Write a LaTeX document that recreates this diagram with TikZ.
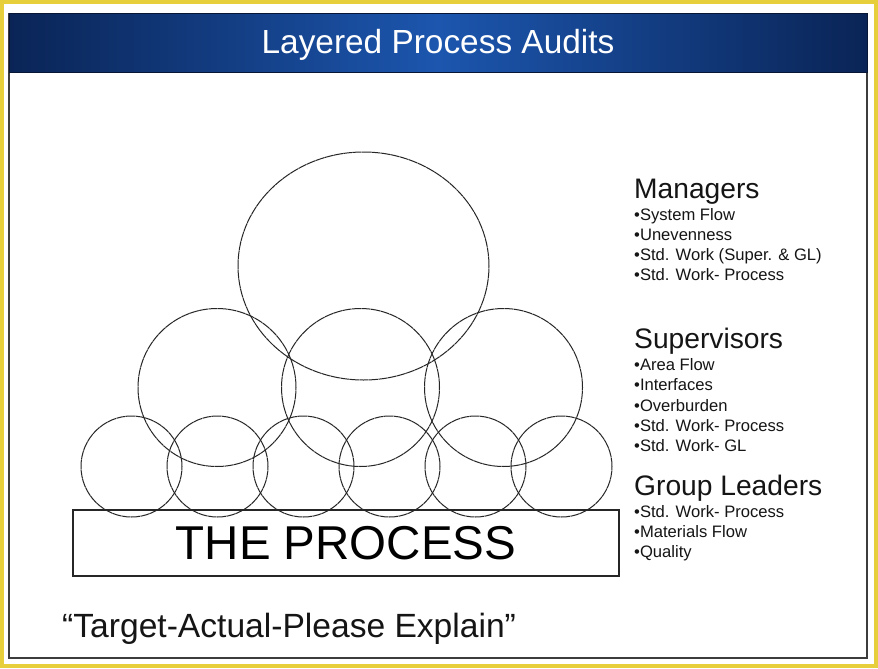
\documentclass[tikz,border=0pt]{standalone}
\usepackage{fontspec}
\setmainfont{Liberation Sans}
\usetikzlibrary{shapes.geometric}
\definecolor{frameyellow}{HTML}{E6CF3A}
\definecolor{navydark}{HTML}{0A2456}
\definecolor{navymid}{HTML}{1C56AE}
\definecolor{inkgray}{HTML}{262626}
\definecolor{textink}{HTML}{151515}
\begin{document}
\begin{tikzpicture}[x=1pt,y=-1pt,
  ring/.style={circle,draw=inkgray,line width=1pt,inner sep=0pt,dash pattern=on 9pt off 0.5pt},
  bigring/.style={ellipse,draw=inkgray,line width=1pt,inner sep=0pt,dash pattern=on 9pt off 0.5pt},
  headtext/.style={anchor=base west,inner sep=0pt,text=textink,font=\fontsize{28.2}{30}\selectfont},
  itemtext/.style={anchor=base west,inner sep=0pt,text=textink,font=\fontsize{16.6}{18}\selectfont}]
\useasboundingbox (0,0) rectangle (878,669);
\fill[white] (0,0) rectangle (878,669);
\draw[frameyellow,line width=4.5pt] (2,2) rectangle (876,666);
\draw[inkgray!90,line width=1.6pt] (9,14) rectangle (867,658);
\shade[left color=navydark,right color=navydark,middle color=navymid] (9,14) rectangle (867,73);
\draw[navydark!60!black,line width=1pt] (9,14) rectangle (867,73);
\node[anchor=base,inner sep=0pt,text=white,font=\fontsize{33.4}{35}\selectfont] (title) at (438,54) {Layered Process Audits};

% circles
\node[bigring,minimum width=251pt,minimum height=228pt] (mgr) at (363.5,266) {};
\node[ring,minimum size=158pt] (sup1) at (217,387.5) {};
\node[ring,minimum size=158pt] (sup2) at (360.5,387.5) {};
\node[ring,minimum size=158pt] (sup3) at (503.5,387.5) {};
\node[ring,minimum size=101pt] (gl1) at (131.5,466.5) {};
\node[ring,minimum size=101pt] (gl2) at (217.5,466.5) {};
\node[ring,minimum size=101pt] (gl3) at (303.5,466.5) {};
\node[ring,minimum size=101pt] (gl4) at (389.5,466.5) {};
\node[ring,minimum size=101pt] (gl5) at (475.5,466.5) {};
\node[ring,minimum size=101pt] (gl6) at (561.5,466.5) {};

% process box
\node[draw=inkgray,line width=1.3pt,minimum width=546pt,minimum height=66pt,inner sep=0pt,text=black,font=\fontsize{47.5}{49}\selectfont] (proc) at (346,543) {THE PROCESS};

% right lists
\node[headtext] (hm) at (634,198) {Managers};
\node[itemtext] (m1) at (634,220) {•System Flow};
\node[itemtext] (m2) at (634,240) {•Unevenness};
\node[itemtext] (m3) at (634,260) {•Std. Work (Super. \& GL)};
\node[itemtext] (m4) at (634,280) {•Std. Work- Process};

\node[headtext] (hs) at (634,348) {Supervisors};
\node[itemtext] (s1) at (634,370) {•Area Flow};
\node[itemtext] (s2) at (634,390) {•Interfaces};
\node[itemtext] (s3) at (634,411) {•Overburden};
\node[itemtext] (s4) at (634,431) {•Std. Work- Process};
\node[itemtext] (s5) at (634,451) {•Std. Work- GL};

\node[headtext] (hg) at (634,495) {Group Leaders};
\node[itemtext] (g1) at (634,517) {•Std. Work- Process};
\node[itemtext] (g2) at (634,537) {•Materials Flow};
\node[itemtext] (g3) at (634,557) {•Quality};

\node[anchor=base west,inner sep=0pt,text=textink,font=\fontsize{33.6}{35}\selectfont] (motto) at (62,637) {“Target-Actual-Please Explain”};
\end{tikzpicture}
\end{document}
